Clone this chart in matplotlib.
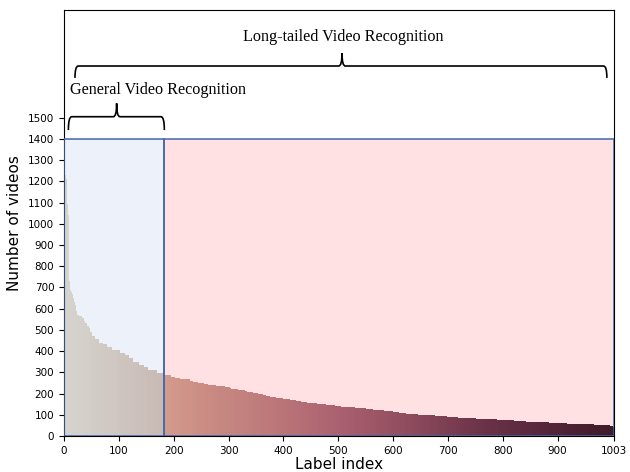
import numpy as np
import matplotlib
matplotlib.use("Agg")
import matplotlib.pyplot as plt
from matplotlib.patches import Rectangle, PathPatch
from matplotlib.path import Path
from matplotlib.colors import LinearSegmentedColormap

# ---- data ----
head_values = [1270, 1260, 1230, 1215, 1210, 1100, 1095, 1045, 1040, 1035,
               730, 690, 685, 680, 675, 670, 660, 650, 640, 630, 618, 605, 590, 580]
run_values = [571, 565, 555, 540, 532, 520, 507, 490, 472, 455, 440, 432, 418, 406,
              393, 382, 366, 351, 335, 327, 311, 299, 293, 288, 280, 275, 270, 267,
              259, 255, 250, 245, 239, 236, 230, 225, 220, 217, 212, 207, 203, 198,
              193, 189, 184, 179, 174, 170, 165, 160, 156, 151, 146, 141, 137, 132,
              127, 123, 118, 113, 108, 104, 99, 94, 90, 85, 80, 75, 69, 66, 61, 57,
              52, 48, 42]
run_counts = [4, 4, 4, 3, 3, 3, 3, 3, 6, 7, 8, 7, 8, 15,
              9, 7, 8, 10, 9, 9, 16, 11, 3, 12, 6, 9, 9, 9,
              6, 9, 12, 7, 15, 15, 9, 3, 13, 12, 3, 12, 9, 8,
              6, 8, 11, 13, 12, 11, 10, 11, 17, 17, 16, 12, 25, 20,
              12, 20, 17, 11, 13, 22, 31, 21, 20, 34, 38, 30, 23, 42, 32, 49,
              30, 5, 3]
split_index = 183
last_index = 1003
xtick_values = [0, 100, 200, 300, 400, 500, 600, 700, 800, 900, 1003]
ytick_values = list(range(0, 1600, 100))
general_label = "General Video Recognition"
longtail_label = "Long-tailed Video Recognition"

counts = np.array(head_values + list(np.repeat(run_values, run_counts)), dtype=float)
labels = np.arange(len(counts))

# ---- colours ----
anchors = [0, 183, 183.5, 250, 400, 500, 627, 753, 879, 1003]
anchor_colors = ["#d6d4ce", "#c8b9b4", "#d39b8d", "#cb8d84", "#b97478",
                 "#aa6170", "#8f4c5e", "#6e3449", "#552539", "#3e1a28"]
cmap = LinearSegmentedColormap.from_list(
    "ramp", list(zip([a / last_index for a in anchors], anchor_colors)))
bar_colors = cmap(np.clip(labels / last_index, 0, 1))

fig = plt.figure(figsize=(6.3, 4.72), dpi=100)
ax = fig.add_axes([64 / 630, 36 / 472, 550 / 630, 426 / 472])

edge_blue = "#4466aa"
ax.add_patch(Rectangle((0, 0), split_index, 1400, facecolor="#edf2fa",
                       edgecolor="none", zorder=0))
ax.add_patch(Rectangle((split_index, 0), last_index - split_index, 1400,
                       facecolor="#ffe1e3", edgecolor="none", zorder=0))
ax.bar(labels, counts, width=1.0, align="edge", color=bar_colors,
       linewidth=0, zorder=1)
ax.add_patch(Rectangle((0, 0), split_index, 1400, facecolor="none",
                       edgecolor=edge_blue, lw=1.1, zorder=3))
ax.add_patch(Rectangle((split_index, 0), last_index - split_index, 1400,
                       facecolor="none", edgecolor=edge_blue, lw=1.1, zorder=3))


def brace(x0, x1, xm, y_end, y_line, y_peak, r):
    verts = [(x0, y_end), (x0, y_line), (x0 + r, y_line),
             (xm - r, y_line), (xm, y_line), (xm, y_peak),
             (xm, y_line), (xm + r, y_line),
             (x1 - r, y_line), (x1, y_line), (x1, y_end)]
    codes = [Path.MOVETO, Path.CURVE3, Path.CURVE3,
             Path.LINETO, Path.CURVE3, Path.CURVE3,
             Path.CURVE3, Path.CURVE3,
             Path.LINETO, Path.CURVE3, Path.CURVE3]
    ax.add_patch(PathPatch(Path(verts, codes), facecolor="none",
                           edgecolor="black", lw=1.2, zorder=4,
                           clip_on=False))


brace(8, 183, 96, 1442, 1505, 1568, 6)
brace(20, 990, 507, 1688, 1744, 1805, 6)

serif = ["Liberation Serif", "DejaVu Serif"]
ax.text(11, 1632, general_label, family=serif, fontsize=11.6,
        ha="left", va="center")
ax.text(510, 1881, longtail_label, family=serif, fontsize=11.6,
        ha="center", va="center")

ax.set_xlim(0, last_index)
ax.set_ylim(0, 2008)
ax.set_xticks(xtick_values)
ax.set_yticks(ytick_values)
ax.tick_params(labelsize=7.5)
ax.set_xlabel("Label index", fontsize=11, labelpad=1)
ax.set_ylabel("Number of videos", fontsize=11, labelpad=4)

fig.savefig("out.png", dpi=100)
